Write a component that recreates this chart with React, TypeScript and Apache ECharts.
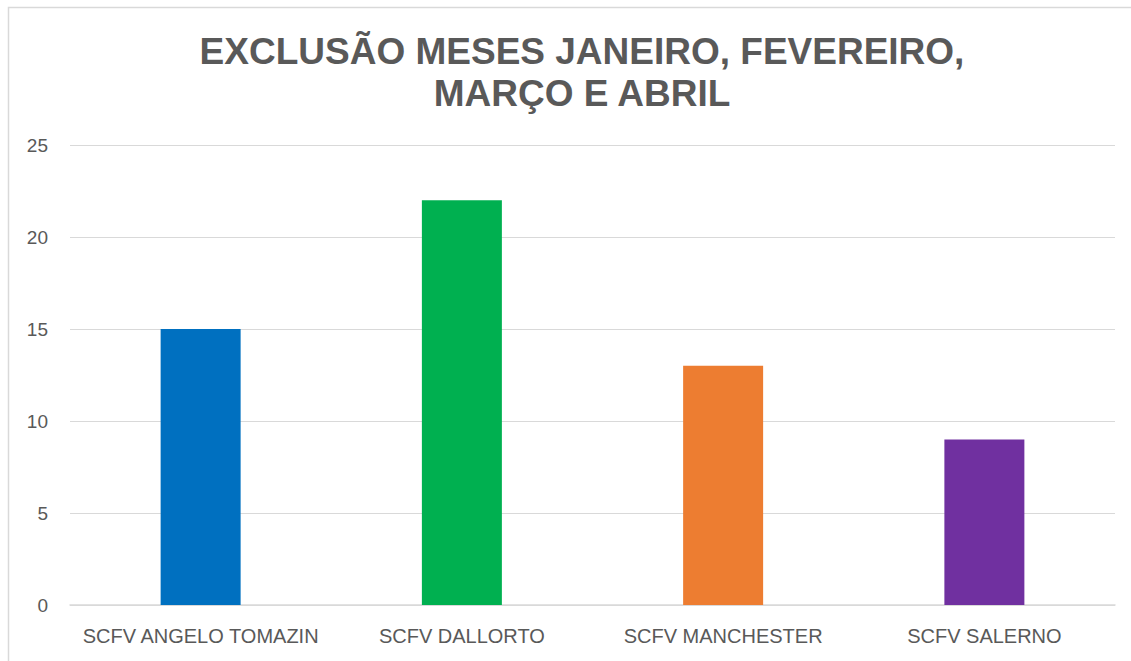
import React, { useEffect, useRef } from "react";
import * as echarts from "echarts";

const categories = ["SCFV ANGELO TOMAZIN", "SCFV DALLORTO", "SCFV MANCHESTER", "SCFV SALERNO"];
const values = [15, 22, 13, 9];
const barColors = ["#0070C0", "#00B050", "#ED7D31", "#7030A0"];
const titleText = "EXCLUSÃO MESES JANEIRO, FEVEREIRO,\nMARÇO E ABRIL";

export default function App() {
  const ref = useRef<HTMLDivElement>(null);
  useEffect(() => {
    const chart = echarts.init(ref.current!, null, { renderer: "svg" });
    chart.setOption({
      animation: false,
      backgroundColor: "#ffffff",
      title: {
        text: titleText,
        left: 577,
        top: 25,
        textAlign: "center",
        textStyle: {
          fontFamily: "Liberation Sans, Arial, sans-serif",
          fontWeight: "bold",
          fontSize: 37,
          color: "#595959",
          lineHeight: 42,
        },
      },
      graphic: [
        {
          type: "rect",
          shape: { x: 8.5, y: 7.5, width: 1300, height: 800 },
          style: { fill: "none", stroke: "#d9d9d9", lineWidth: 1.5 },
          silent: true,
        },
      ],
      grid: { left: 70, right: 16, top: 145, bottom: 56, containLabel: false },
      xAxis: {
        type: "category",
        data: categories,
        axisLine: { show: true, lineStyle: { color: "#d9d9d9", width: 1.5 } },
        axisTick: { show: false },
        axisLabel: {
          interval: 0,
          color: "#595959",
          fontSize: 20,
          fontFamily: "Liberation Sans, Arial, sans-serif",
          margin: 21,
        },
      },
      yAxis: {
        type: "value",
        min: 0,
        max: 25,
        interval: 5,
        axisLine: { show: false },
        axisTick: { show: false },
        splitLine: { lineStyle: { color: "#d9d9d9", width: 1 } },
        axisLabel: {
          color: "#595959",
          fontSize: 19,
          fontFamily: "Liberation Sans, Arial, sans-serif",
          margin: 22,
        },
      },
      series: [
        {
          type: "bar",
          barWidth: 80,
          data: values.map((v, i) => ({ value: v, itemStyle: { color: barColors[i] } })),
        },
      ],
    });
    return () => chart.dispose();
  }, []);
  return (
    <div
      ref={ref}
      style={{ position: "fixed", left: 0, top: 0, width: 1131, height: 661 }}
    />
  );
}
